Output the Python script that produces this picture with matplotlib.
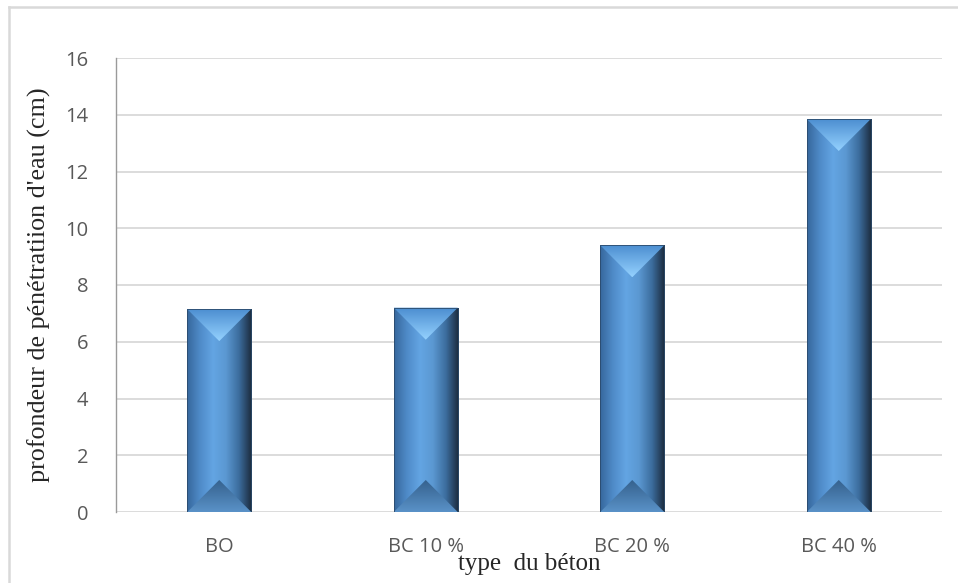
import numpy as np
import matplotlib; matplotlib.use("Agg")
import matplotlib.pyplot as plt
from matplotlib.patches import Polygon, Rectangle
from matplotlib.lines import Line2D
from matplotlib.colors import LinearSegmentedColormap

categories = ["BO", "BC 10 %", "BC 20 %", "BC 40 %"]
depth_cm = [7.15, 7.2, 9.4, 13.85]
yticks = [0, 2, 4, 6, 8, 10, 12, 14, 16]

W, H = 958, 583
fig = plt.figure(figsize=(W/100, H/100), dpi=100)
# outer chart frame (Excel style), only top and left edges are inside the crop
fig.add_artist(Line2D([9/W, 1.0], [1 - 7/H, 1 - 7/H], transform=fig.transFigure,
                      color="#d9d9d9", lw=1.8))
fig.add_artist(Line2D([9/W, 9/W], [0, 1 - 7/H], transform=fig.transFigure,
                      color="#d9d9d9", lw=1.8))
ax = fig.add_axes([116/W, 1 - 512/H, (942-116)/W, (512-58)/H])
ax.set_xlim(-0.5, 3.5); ax.set_ylim(0, 16)
ax.set_yticks(yticks)
ax.yaxis.grid(True, color="#d9d9d9", lw=1.3); ax.set_axisbelow(True)
for s in ("top", "right", "bottom"):
    ax.spines[s].set_visible(False)
ax.spines["left"].set_color("#9a9a9a"); ax.spines["left"].set_linewidth(1.0)
ax.tick_params(axis="y", length=0, pad=20, labelsize=14.5, labelcolor="#595959")
ax.tick_params(axis="x", length=0, pad=18, labelsize=14.5, labelcolor="#595959")
ax.set_xticks(range(len(categories)))
ax.set_xticklabels(categories)
for lab in ax.get_yticklabels() + ax.get_xticklabels():
    lab.set_fontfamily("Open Sans")
ax.set_ylabel("profondeur de pénétratiion d'eau (cm)", family="Liberation Serif",
              fontsize=18.8, color="#262626", labelpad=10)
ax.set_xlabel("type  du béton", family="Liberation Serif", fontsize=18,
              color="#262626", labelpad=-3)

side = LinearSegmentedColormap.from_list("side", ["#36679c", "#4f8bc8", "#63a5e3",
                                                  "#5b98d2", "#3c6d9e", "#1b2a3c"])
topc = LinearSegmentedColormap.from_list("topc", ["#4a8ccf", "#95d2ff"])
botc = LinearSegmentedColormap.from_list("botc", ["#5a92c8", "#34608c"])

bw = 0.31
# bevel height in data units equals half bar width in pixels
px_x = ax.transData.transform((bw, 0))[0] - ax.transData.transform((0, 0))[0]
px_y = ax.transData.transform((0, 1))[1] - ax.transData.transform((0, 0))[1]
bev = (px_x / 2) / px_y

for i, v in enumerate(depth_cm):
    x0, x1, xm = i - bw/2, i + bw/2, i
    body = Rectangle((x0, 0), bw, v, fc="none", ec="none")
    ax.add_patch(body)
    im = ax.imshow(np.linspace(0, 1, 256)[None, :], cmap=side, aspect="auto",
                   extent=(x0, x1, 0, v), zorder=2)
    im.set_clip_path(body)
    tri = Polygon([(x0, v), (x1, v), (xm, v - bev)], closed=True, fc="none", ec="none")
    ax.add_patch(tri)
    im2 = ax.imshow(np.linspace(0, 1, 256)[:, None], cmap=topc, aspect="auto",
                    extent=(x0, x1, v - bev, v), origin="upper", zorder=3)
    im2.set_clip_path(tri)
    tri_b = Polygon([(x0, 0), (x1, 0), (xm, bev)], closed=True, fc="none", ec="none")
    ax.add_patch(tri_b)
    im3 = ax.imshow(np.linspace(0, 1, 256)[:, None], cmap=botc, aspect="auto",
                    extent=(x0, x1, 0, bev), origin="lower", zorder=3)
    im3.set_clip_path(tri_b)
    ax.add_patch(Rectangle((x0, 0), bw, v, fc="none", ec="#2b4a6b", lw=0.6, zorder=4))

ax.set_xlim(-0.5, 3.5); ax.set_ylim(0, 16)
fig.savefig("out.png", dpi=100)
